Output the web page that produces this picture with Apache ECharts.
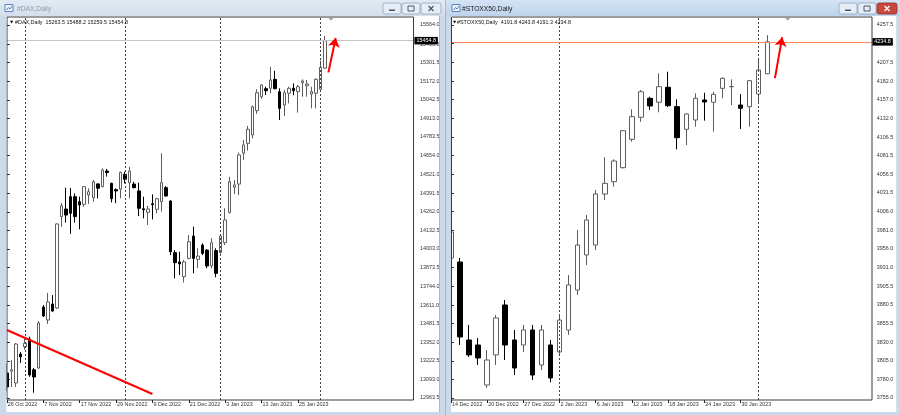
<!DOCTYPE html>
<html>
<head>
<meta charset="utf-8">
<title>DAX / STOXX50 Daily</title>
<script src="https://cdn.jsdelivr.net/npm/echarts@6.0.0/dist/echarts.min.js"></script>
<style>
html,body{margin:0;padding:0;background:#fff;overflow:hidden}
#chart{width:900px;height:415px}
</style>
</head>
<body>
<div id="chart"></div>
<script>
// ---------- #DAX, Daily ----------
const daxDates = [
  '26 Oct 2022','27 Oct 2022','28 Oct 2022','31 Oct 2022','1 Nov 2022','2 Nov 2022','3 Nov 2022','4 Nov 2022',
  '7 Nov 2022','8 Nov 2022','9 Nov 2022','10 Nov 2022','11 Nov 2022','14 Nov 2022','15 Nov 2022','16 Nov 2022',
  '17 Nov 2022','18 Nov 2022','21 Nov 2022','22 Nov 2022','23 Nov 2022','24 Nov 2022','25 Nov 2022','28 Nov 2022',
  '29 Nov 2022','30 Nov 2022','1 Dec 2022','2 Dec 2022','5 Dec 2022','6 Dec 2022','7 Dec 2022','8 Dec 2022',
  '9 Dec 2022','12 Dec 2022','13 Dec 2022','14 Dec 2022','15 Dec 2022','16 Dec 2022','19 Dec 2022','20 Dec 2022',
  '21 Dec 2022','22 Dec 2022','23 Dec 2022','27 Dec 2022','28 Dec 2022','29 Dec 2022','30 Dec 2022','2 Jan 2023',
  '3 Jan 2023','4 Jan 2023','5 Jan 2023','6 Jan 2023','9 Jan 2023','10 Jan 2023','11 Jan 2023','12 Jan 2023',
  '13 Jan 2023','16 Jan 2023','17 Jan 2023','18 Jan 2023','19 Jan 2023','20 Jan 2023','23 Jan 2023','24 Jan 2023',
  '25 Jan 2023','26 Jan 2023','27 Jan 2023','30 Jan 2023','31 Jan 2023','1 Feb 2023','2 Feb 2023'
];
const daxOpen = [
  13138,13150,13068,13270,13321,13375,13160,13173,13598,13507,13619,13591,14228,14281,14367,14367,
  14332,14314,14379,14360,14456,14437,14546,14460,14416,14419,14523,14464,14455,14407,14283,14258,
  14318,14279,14332,14430,14337,13977,13912,13810,13937,14093,13930,14030,13995,13884,13991,13977,
  14046,14256,14433,14455,14670,14739,14797,14967,15064,15120,15123,15185,15099,15006,15088,15123,
  15099,15162,15141,15083,15088,15116,15263.5
];
const daxHigh = [
  13208,13228,13347,13284,13375,13391,13173,13500,13612,13695,13681,14181,14323,14430,14428,14390,
  14367,14441,14425,14483,14460,14565,14560,14465,14425,14541,14541,14575,14470,14465,14367,14304,
  14383,14360,14670,14441,14342,13995,13983,13926,14100,14158,14007,14042,14000,14077,14007,14100,
  14286,14506,14483,14674,14762,14860,15003,15116,15150,15134,15273,15245,15123,15111,15134,15157,
  15146,15185,15181,15134,15192,15315,15488.2
];
const daxLow = [
  13012,13040,13040,13208,13300,13112,13000,13166,13528,13480,13565,13584,14156,14186,14108,14186,
  14140,14295,14316,14332,14355,14432,14507,14327,14322,14355,14460,14355,14425,14232,14216,14170,
  14209,14251,14263,14367,13960,13798,13821,13769,13930,13833,13868,13960,13868,13868,13805,13970,
  14030,14251,14386,14379,14623,14688,14774,14944,15050,15076,15088,15116,14902,14930,15018,15074,
  14953,15064,15064,14983,14983,15111,15259.5
];
const daxClose = [
  13040,13160,13340,13250,13345,13124,13110,13487,13535,13633,13570,14177,14304,14239,14251,14228,
  14309,14437,14402,14471,14426,14553,14535,14353,14407,14537,14488,14546,14430,14286,14276,14281,
  14311,14353,14465,14372,13983,13907,13898,13912,14053,13937,13953,13972,13884,14046,13833,14093,
  14205,14472,14449,14658,14728,14837,14994,15092,15146,15106,15181,15120,14983,15092,15123,15106,
  15134,15174,15153,15099,15185,15269,15454.8
];
const daxPriceTicks = [
  12963.5,13093.0,13222.5,13352.0,13481.5,13611.0,13744.0,13873.5,14003.0,14132.5,14262.0,
  14391.5,14521.0,14654.0,14783.5,14913.0,15042.5,15172.0,15301.5,15430.5,15564.0
];

// ---------- #STOXX50, Daily ----------
const stxDates = [
  '14 Dec 2022','15 Dec 2022','16 Dec 2022','19 Dec 2022','20 Dec 2022','21 Dec 2022','22 Dec 2022','23 Dec 2022',
  '27 Dec 2022','28 Dec 2022','29 Dec 2022','30 Dec 2022','2 Jan 2023','3 Jan 2023','4 Jan 2023','5 Jan 2023',
  '6 Jan 2023','9 Jan 2023','10 Jan 2023','11 Jan 2023','12 Jan 2023','13 Jan 2023','16 Jan 2023','17 Jan 2023',
  '18 Jan 2023','19 Jan 2023','20 Jan 2023','23 Jan 2023','24 Jan 2023','25 Jan 2023','26 Jan 2023','27 Jan 2023',
  '30 Jan 2023','31 Jan 2023','1 Feb 2023','2 Feb 2023'
];
const stxOpen = [
  3943.6,3938.2,3833.1,3826.4,3772.5,3813.0,3880.3,3833.1,3826.4,3846.6,3799.5,3826.4,
  3817.0,3846.6,3900.5,3947.7,3961.1,4029.8,4046.4,4065.3,4103.5,4133.2,4158.7,4153.4,
  4173.6,4147.5,4117.0,4129.5,4156.5,4153.4,4172.2,4174.4,4149.7,4147.5,4164.5,4191.8
];
const stxHigh = [
  3984.0,3943.6,3853.4,3835.8,3819.7,3866.8,3887.0,3846.6,3853.4,3853.4,3853.4,3833.1,
  3866.8,3920.7,3981.3,4001.5,4035.2,4079.3,4076.6,4116.0,4143.9,4169.9,4160.9,4192.4,
  4194.6,4157.4,4138.5,4165.5,4166.3,4167.6,4187.0,4184.3,4164.5,4183.4,4211.3,4243.8
];
const stxLow = [
  3940.9,3826.4,3810.2,3799.5,3768.5,3799.5,3806.2,3786.0,3817.0,3779.3,3792.7,3776.0,
  3813.0,3839.9,3893.8,3934.2,3954.4,4021.7,4039.7,4064.0,4100.3,4127.2,4143.0,4139.9,
  4147.0,4090.0,4095.8,4120.5,4128.6,4113.8,4158.7,4149.7,4117.4,4120.5,4152.0,4191.3
];
const stxClose = [
  3978.6,3837.2,3813.0,3808.9,3806.2,3862.8,3826.4,3795.4,3846.6,3786.0,3846.6,3782.0,
  3860.0,3907.3,3961.1,3994.8,4029.8,4044.2,4074.3,4115.1,4134.0,4167.6,4148.4,4174.4,
  4148.8,4105.7,4137.6,4158.7,4153.8,4164.1,4185.7,4174.6,4145.3,4182.5,4196.9,4234.8
];
const stxPriceTicks = [
  3755.0,3780.0,3805.0,3830.0,3855.5,3880.5,3905.5,3931.0,3956.0,3981.0,4006.0,
  4031.5,4056.5,4081.5,4106.5,4132.0,4157.0,4182.0,4207.5,4232.5,4257.5
];

// Hand-drawn annotations, as [bar index, price]
const daxTrendLine = [[0, 13437.6], [32, 12991.4]];
const daxArrow = [[70.7, 15234.0], [72.3, 15473.0]];
const stxArrow = [[35.8, 4186.0], [36.6, 4241.0]];

// ---------- layout / style ----------
const FONT = 'Liberation Sans, Arial, sans-serif';
const FS = 5.4;
const DAX_SLOTS = 90, STX_SLOTS = 47;   // visible bar slots incl. the empty right margin
const FRAME = '#cbd9ea';

function candles(o, c, l, h) { return o.map((v, i) => [v, c[i], l[i], h[i]]); }
function padCats(d, n) { const out = d.slice(); for (let i = d.length; i < n; i++) out.push('slot' + i); return out; }
function monthStarts(d) {
  const idx = [];
  for (let i = 1; i < d.length; i++) if (d[i].split(' ')[1] !== d[i - 1].split(' ')[1]) idx.push(i);
  return idx;
}
function ohlcText(name, o, h, l, c) {
  const n = o.length - 1;
  return name + '  ' + [o[n], h[n], l[n], c[n]].map(v => v.toFixed(1)).join(' ');
}

function catAxis(grid, dates, slots, step) {
  const show = (i) => i < dates.length && i % step === 0;
  return {
    type: 'category', gridIndex: grid, data: padCats(dates, slots), boundaryGap: true,
    axisLine: { show: false },
    axisTick: { show: true, alignWithLabel: true, interval: show, length: 3, lineStyle: { color: '#222', width: 1 } },
    axisLabel: { interval: show, align: 'left', margin: 2.5, fontSize: FS, color: '#333', fontFamily: FONT,
                 padding: [0, 0, 0, 1] },
    splitLine: { show: false }
  };
}
function annoAxis(grid, slots) {
  return { type: 'value', gridIndex: grid, min: -0.5, max: slots - 0.5, show: false };
}
function priceAxis(grid, ticks, margin) {
  const lo = ticks[0], hi = ticks[ticks.length - 1];
  // price area spans 373 px between the outer ticks; the chart box adds 8 px on top, 2 px below
  const u = (hi - lo) / 373;
  return {
    type: 'value', gridIndex: grid, position: 'right',
    min: lo - 2 * u, max: hi + 8 * u,
    axisLine: { show: false },
    axisTick: { show: true, length: 3, customValues: ticks, lineStyle: { color: '#222', width: 1 } },
    axisLabel: { customValues: ticks, margin: margin, fontSize: FS, color: '#333', fontFamily: FONT,
                 formatter: v => v.toFixed(1) },
    splitLine: { show: false }
  };
}
function priceSeries(xi, yi, dates, o, h, l, c, width, lastColor) {
  const seps = monthStarts(dates).map(i => ({
    xAxis: i, label: { show: false },
    lineStyle: { color: '#444', type: [2, 2], width: 1 }
  }));
  const last = c[c.length - 1];
  return {
    type: 'candlestick', xAxisIndex: xi, yAxisIndex: yi,
    data: candles(o, c, l, h), barWidth: width,
    itemStyle: { color: '#ffffff', color0: '#000000', borderColor: '#5e5e5e', borderColor0: '#000000', borderWidth: 1 },
    markLine: {
      silent: true, symbol: ['none', 'none'], animation: false,
      data: seps.concat([{
        yAxis: last,
        lineStyle: { color: lastColor, type: 'solid', width: 1 },
        label: { show: true, position: 'end', distance: 0.5, formatter: () => last.toFixed(1),
                 backgroundColor: '#000', color: '#fff', fontSize: FS, fontFamily: FONT, padding: [1.5, 2, 1, 2] }
      }])
    },
    z: 3
  };
}
function annoSeries(xi, yi, line, arrow) {
  return {
    type: 'line', xAxisIndex: xi, yAxisIndex: yi, data: line || [], symbol: 'none',
    lineStyle: { color: '#ff0000', width: 2 }, silent: true, z: 5,
    markLine: {
      silent: true, animation: false, symbol: ['none', 'arrow'], symbolSize: 9,
      lineStyle: { color: '#ff0000', width: 2, type: 'solid' }, label: { show: false },
      itemStyle: { color: '#ff0000' },
      data: [[{ coord: arrow[0], symbol: 'none' }, { coord: arrow[1], symbol: 'arrow', symbolSize: 9 }]]
    }
  };
}

// ---------- window chrome ----------
function titleButtons(x0, active) {
  const els = [];
  const w = [18, 18, 20];
  let x = x0;
  for (let i = 0; i < 3; i++) {
    const close = i === 2;
    els.push({ type: 'rect', z: 60, shape: { x: x, y: 3, width: w[i], height: 11, r: 2 },
      style: { fill: close && active ? '#c9483c' : '#e6edf6', stroke: close && active ? '#8e2f27' : '#8ea3bd', lineWidth: 0.8 } });
    const cx = x + w[i] / 2, cy = 8.5, col = close && active ? '#fff' : '#4a5a6e';
    if (i === 0) els.push({ type: 'rect', z: 61, shape: { x: cx - 3, y: cy + 1, width: 6, height: 1.5 }, style: { fill: col } });
    if (i === 1) els.push({ type: 'rect', z: 61, shape: { x: cx - 3, y: cy - 2.5, width: 6, height: 5 }, style: { fill: 'none', stroke: col, lineWidth: 1 } });
    if (i === 2) {
      els.push({ type: 'line', z: 61, shape: { x1: cx - 2.5, y1: cy - 2.5, x2: cx + 2.5, y2: cy + 2.5 }, style: { stroke: col, lineWidth: 1.3 } });
      els.push({ type: 'line', z: 61, shape: { x1: cx + 2.5, y1: cy - 2.5, x2: cx - 2.5, y2: cy + 2.5 }, style: { stroke: col, lineWidth: 1.3 } });
    }
    x += w[i] + 1;
  }
  return els;
}
function windowIcon(x, y) {
  return [
    { type: 'rect', z: 60, shape: { x: x, y: y, width: 8, height: 7 }, style: { fill: '#eef4fb', stroke: '#5b86c2', lineWidth: 1 } },
    { type: 'polyline', z: 61, shape: { points: [[x + 1.5, y + 5.5], [x + 3.5, y + 3], [x + 5, y + 4.5], [x + 7, y + 1.5]] }, style: { stroke: '#2f62a8', lineWidth: 0.8, fill: 'none' } }
  ];
}

const graphic = [
  { type: 'rect', z: -20, shape: { x: 0, y: 0, width: 900, height: 415 }, style: { fill: FRAME } },
  { type: 'rect', z: -19, shape: { x: 6, y: 16, width: 434, height: 396 }, style: { fill: '#ffffff' } },
  { type: 'rect', z: -19, shape: { x: 451, y: 16, width: 445.5, height: 396 }, style: { fill: '#ffffff' } },
  // frames drawn over the plot so the partly scrolled first bars get cut
  { type: 'rect', z: 50, shape: { x: 0, y: 0, width: 6.5, height: 415 }, style: { fill: FRAME } },
  { type: 'rect', z: 50, shape: { x: 440, y: 0, width: 11, height: 415 }, style: { fill: FRAME } },
  { type: 'line', z: 51, shape: { x1: 439.5, y1: 16, x2: 439.5, y2: 412 }, style: { stroke: '#a9b8ca', lineWidth: 1 } },
  { type: 'line', z: 51, shape: { x1: 445.5, y1: 0, x2: 445.5, y2: 415 }, style: { stroke: '#a9b8ca', lineWidth: 1 } },
  { type: 'rect', z: 50, shape: { x: 896.5, y: 0, width: 3.5, height: 415 }, style: { fill: FRAME } },
  { type: 'rect', z: 50, shape: { x: 0, y: 412, width: 900, height: 3 }, style: { fill: FRAME } },
  // title bars
  { type: 'rect', z: 52, shape: { x: 0, y: 0, width: 445, height: 16 },
    style: { fill: new echarts.graphic.LinearGradient(0, 0, 0, 1, [{ offset: 0, color: '#e2eaf4' }, { offset: 1, color: '#d3dfec' }]) } },
  { type: 'rect', z: 52, shape: { x: 446, y: 0, width: 454, height: 16 },
    style: { fill: new echarts.graphic.LinearGradient(0, 0, 0, 1, [{ offset: 0, color: '#d4e3f5' }, { offset: 1, color: '#bfd3ec' }]) } },
  { type: 'text', z: 60, x: 17, y: 9, style: { text: '#DAX,Daily', fontSize: 6.7, fontFamily: FONT, fill: '#8d9aab', verticalAlign: 'middle' } },
  { type: 'text', z: 60, x: 462, y: 9, style: { text: '#STOXX50,Daily', fontSize: 6.7, fontFamily: FONT, fill: '#1b1b1b', verticalAlign: 'middle' } },
  // chart boxes
  { type: 'rect', z: 45, shape: { x: 7, y: 17, width: 406.5, height: 383 }, style: { fill: 'none', stroke: '#3a3a3a', lineWidth: 1 } },
  { type: 'rect', z: 45, shape: { x: 451.5, y: 17, width: 420.5, height: 383 }, style: { fill: 'none', stroke: '#3a3a3a', lineWidth: 1 } },
  // header lines
  { type: 'polygon', z: 46, shape: { points: [[10, 20.8], [13.2, 20.8], [11.6, 23.4]] }, style: { fill: '#000' } },
  { type: 'text', z: 46, x: 15, y: 22.3, style: { text: ohlcText('#DAX,Daily', daxOpen, daxHigh, daxLow, daxClose), fontSize: FS, fontFamily: FONT, fill: '#111', verticalAlign: 'middle' } },
  { type: 'polygon', z: 46, shape: { points: [[453, 20.8], [456.2, 20.8], [454.6, 23.4]] }, style: { fill: '#000' } },
  { type: 'text', z: 46, x: 457, y: 22.3, style: { text: ohlcText('#STOXX50,Daily', stxOpen, stxHigh, stxLow, stxClose), fontSize: FS, fontFamily: FONT, fill: '#111', verticalAlign: 'middle' } },
  // chart-shift markers
  { type: 'polygon', z: 46, shape: { points: [[328.3, 18], [333.7, 18], [331, 20.6]] }, style: { fill: '#a0a0a0' } },
  { type: 'polygon', z: 46, shape: { points: [[785, 18], [790.4, 18], [787.7, 20.6]] }, style: { fill: '#a0a0a0' } }
].concat(windowIcon(5, 4.5), windowIcon(452, 4.5), titleButtons(383, false), titleButtons(839, true));

const option = {
  animation: false,
  backgroundColor: '#ffffff',
  grid: [
    { left: 4.6, top: 17, width: 409.3, height: 383, show: false },
    { left: 446.4, top: 17, width: 425.4, height: 383, show: false }
  ],
  xAxis: [
    catAxis(0, daxDates, DAX_SLOTS, 8),
    catAxis(1, stxDates, STX_SLOTS, 4),
    annoAxis(0, DAX_SLOTS),
    annoAxis(1, STX_SLOTS)
  ],
  yAxis: [
    priceAxis(0, daxPriceTicks, 6),
    priceAxis(1, stxPriceTicks, 5)
  ],
  series: [
    priceSeries(0, 0, daxDates, daxOpen, daxHigh, daxLow, daxClose, 3, '#c4c4c4'),
    priceSeries(1, 1, stxDates, stxOpen, stxHigh, stxLow, stxClose, 5, '#ff8a5c'),
    annoSeries(2, 0, daxTrendLine, daxArrow),
    annoSeries(3, 1, null, stxArrow)
  ],
  graphic: graphic
};

const chart = echarts.init(document.getElementById('chart'), null, { renderer: 'canvas', width: 900, height: 415 });
chart.setOption(option);
</script>
</body>
</html>
